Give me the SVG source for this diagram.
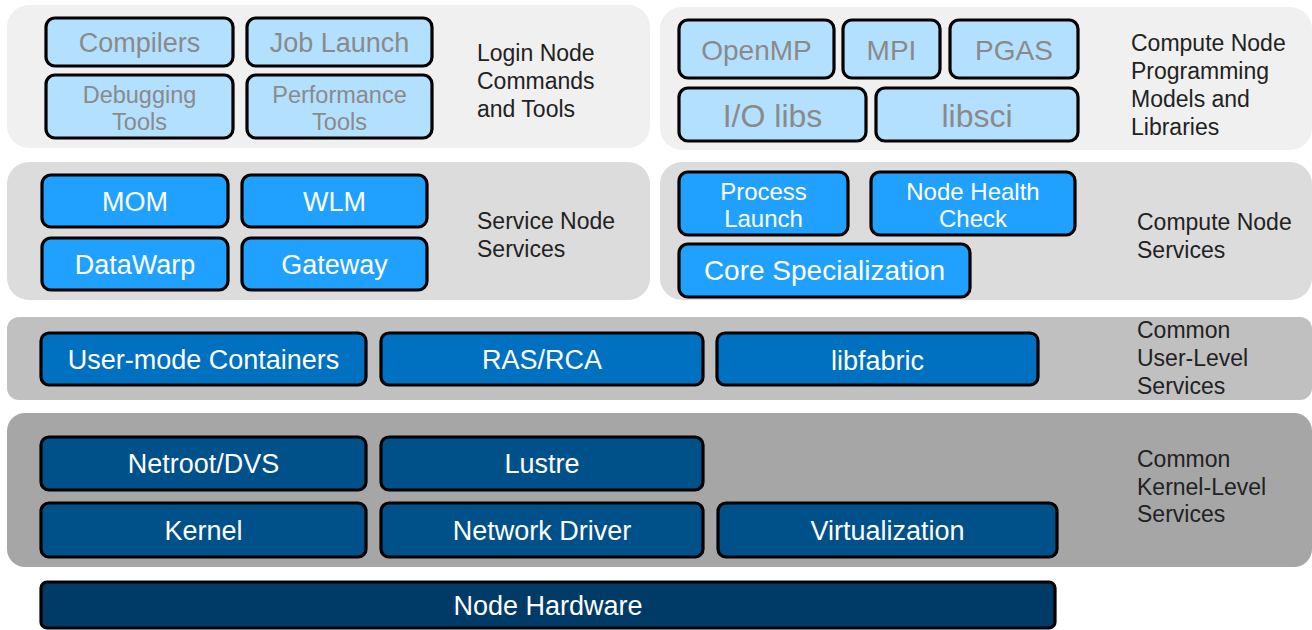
<svg xmlns="http://www.w3.org/2000/svg" width="1312" height="630" viewBox="0 0 1312 630">
<style>
text{font-family:"Liberation Sans",Arial,sans-serif;text-anchor:middle;dominant-baseline:central}
.lbl{text-anchor:start;font-size:23px;fill:#222;dominant-baseline:auto}
.b{stroke:#000;stroke-width:3.2}
.l1{fill:#b3e0ff}.t1{fill:#8a8a8a}
.l2{fill:#21a1ff}.t2{fill:#fff}
.l3{fill:#0070c0}
.l4{fill:#005189}
.l5{fill:#003a66}
</style>
<rect x="7" y="5" width="643" height="143" rx="22" fill="#f0f0f0"/>
<rect x="660" y="7" width="652" height="143" rx="22" fill="#f0f0f0"/>
<rect x="7" y="162" width="643" height="138" rx="22" fill="#dcdcdc"/>
<rect x="660" y="162" width="652" height="138" rx="22" fill="#dcdcdc"/>
<rect x="7" y="317" width="1305" height="83" rx="12" fill="#c0c0c0"/>
<rect x="7" y="413" width="1305" height="154" rx="18" fill="#a6a6a6"/>

<g id="compilers"><rect class="b l1" x="46" y="18" width="187" height="48" rx="9"/><text class="t1" x="139.5" y="43" font-size="27">Compilers</text></g>
<g id="joblaunch"><rect class="b l1" x="247" y="18" width="185" height="48" rx="9"/><text class="t1" x="339.5" y="43" font-size="27">Job Launch</text></g>
<g id="debugging"><rect class="b l1" x="46" y="75" width="187" height="63" rx="9"/><text class="t1" x="139.5" y="95" font-size="23.5">Debugging</text><text class="t1" x="139.5" y="122" font-size="23.5">Tools</text></g>
<g id="performance"><rect class="b l1" x="247" y="75" width="185" height="63" rx="9"/><text class="t1" x="339.5" y="95" font-size="23.5">Performance</text><text class="t1" x="339.5" y="122" font-size="23.5">Tools</text></g>
<g id="login-label"><text class="lbl" x="477" y="61">Login Node</text><text class="lbl" x="477" y="89">Commands</text><text class="lbl" x="477" y="117">and Tools</text></g>

<g id="openmp"><rect class="b l1" x="679" y="20" width="155" height="58" rx="9"/><text class="t1" x="756.5" y="50" font-size="28">OpenMP</text></g>
<g id="mpi"><rect class="b l1" x="843" y="20" width="97" height="58" rx="9"/><text class="t1" x="891.5" y="50" font-size="28">MPI</text></g>
<g id="pgas"><rect class="b l1" x="950" y="20" width="128" height="58" rx="9"/><text class="t1" x="1014" y="50" font-size="28">PGAS</text></g>
<g id="iolibs"><rect class="b l1" x="679" y="88" width="187" height="53" rx="9"/><text class="t1" x="772.5" y="116" font-size="32">I/O libs</text></g>
<g id="libsci"><rect class="b l1" x="876" y="88" width="202" height="53" rx="9"/><text class="t1" x="977" y="116" font-size="32">libsci</text></g>
<g id="compute-label"><text class="lbl" x="1131" y="51">Compute Node</text><text class="lbl" x="1131" y="79">Programming</text><text class="lbl" x="1131" y="107">Models and</text><text class="lbl" x="1131" y="135">Libraries</text></g>

<g id="mom"><rect class="b l2" x="42" y="175" width="186" height="52" rx="9"/><text class="t2" x="135" y="202" font-size="27">MOM</text></g>
<g id="wlm"><rect class="b l2" x="242" y="175" width="185" height="52" rx="9"/><text class="t2" x="334.5" y="202" font-size="27">WLM</text></g>
<g id="datawarp"><rect class="b l2" x="42" y="238" width="186" height="52" rx="9"/><text class="t2" x="135" y="265" font-size="27">DataWarp</text></g>
<g id="gateway"><rect class="b l2" x="242" y="238" width="185" height="52" rx="9"/><text class="t2" x="334.5" y="265" font-size="27">Gateway</text></g>
<g id="service-label"><text class="lbl" x="477" y="229">Service Node</text><text class="lbl" x="477" y="257">Services</text></g>

<g id="processlaunch"><rect class="b l2" x="679" y="172" width="169" height="63" rx="9"/><text class="t2" x="763.5" y="191" font-size="24">Process</text><text class="t2" x="763.5" y="218" font-size="24">Launch</text></g>
<g id="nodehealth"><rect class="b l2" x="871" y="172" width="204" height="63" rx="9"/><text class="t2" x="973" y="191" font-size="24">Node Health</text><text class="t2" x="973" y="218" font-size="24">Check</text></g>
<g id="corespec"><rect class="b l2" x="679" y="244" width="291" height="53" rx="9"/><text class="t2" x="824.5" y="270" font-size="28">Core Specialization</text></g>
<g id="cnservices-label"><text class="lbl" x="1137" y="230">Compute Node</text><text class="lbl" x="1137" y="258">Services</text></g>

<g id="usermode"><rect class="b l3" x="41" y="333" width="325" height="52" rx="8"/><text class="t2" x="203.5" y="360" font-size="27">User-mode Containers</text></g>
<g id="rasrca"><rect class="b l3" x="381" y="333" width="322" height="52" rx="8"/><text class="t2" x="542" y="360" font-size="27">RAS/RCA</text></g>
<g id="libfabric"><rect class="b l3" x="717" y="333" width="321" height="52" rx="8"/><text class="t2" x="877.5" y="361" font-size="27">libfabric</text></g>
<g id="user-label"><text class="lbl" x="1137" y="338">Common</text><text class="lbl" x="1137" y="366">User-Level</text><text class="lbl" x="1137" y="394">Services</text></g>

<g id="netroot"><rect class="b l4" x="41" y="437" width="325" height="53" rx="8"/><text class="t2" x="203.5" y="464" font-size="27">Netroot/DVS</text></g>
<g id="lustre"><rect class="b l4" x="381" y="437" width="322" height="53" rx="8"/><text class="t2" x="542" y="464" font-size="27">Lustre</text></g>
<g id="kernel"><rect class="b l4" x="41" y="503" width="325" height="54" rx="8"/><text class="t2" x="203.5" y="531" font-size="27">Kernel</text></g>
<g id="netdriver"><rect class="b l4" x="381" y="503" width="322" height="54" rx="8"/><text class="t2" x="542" y="531" font-size="27">Network Driver</text></g>
<g id="virtualization"><rect class="b l4" x="718" y="503" width="339" height="54" rx="8"/><text class="t2" x="887.5" y="531" font-size="27">Virtualization</text></g>
<g id="kernel-label"><text class="lbl" x="1137" y="467">Common</text><text class="lbl" x="1137" y="495">Kernel-Level</text><text class="lbl" x="1137" y="522">Services</text></g>

<g id="hardware"><rect class="b l5" x="41" y="582" width="1014" height="46" rx="6"/><text class="t2" x="548" y="606" font-size="27">Node Hardware</text></g>
<g id="connectors"/>
</svg>
